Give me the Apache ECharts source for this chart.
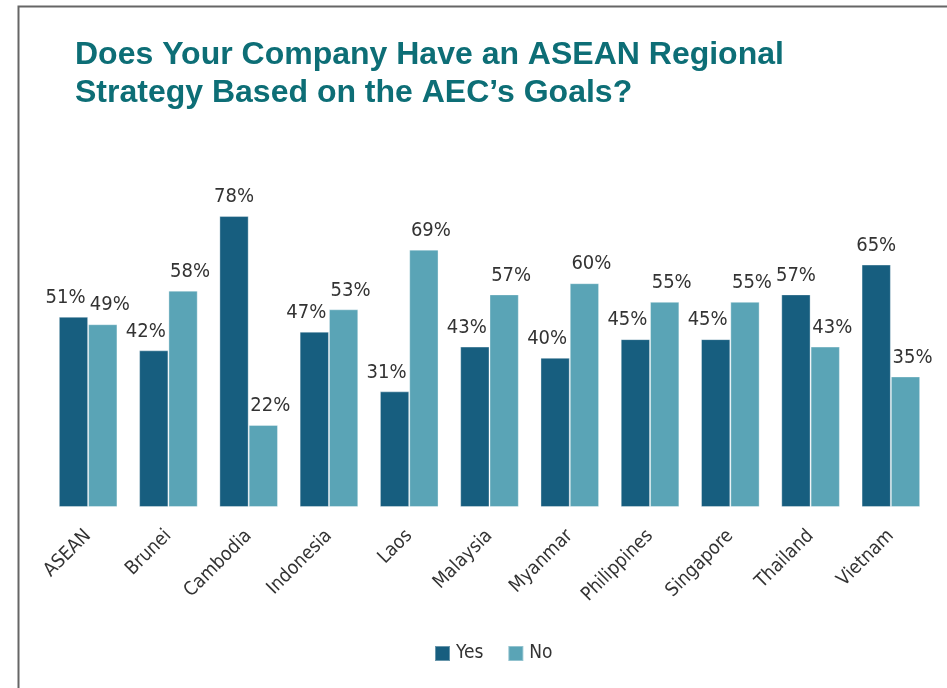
<!DOCTYPE html>
<html>
<head>
<meta charset="utf-8">
<script src="https://cdn.jsdelivr.net/npm/echarts@6/dist/echarts.min.js"></script>
<style>
html, body { margin: 0; padding: 0; background: #fff; }
#chart { width: 947px; height: 688px; position: relative; }
</style>
</head>
<body>
<div id="chart"></div>
<script>
// survey answers per country, percent
const countries = ['ASEAN', 'Brunei', 'Cambodia', 'Indonesia', 'Laos', 'Malaysia', 'Myanmar', 'Philippines', 'Singapore', 'Thailand', 'Vietnam']
const yesValues = [51, 42, 78, 47, 31, 43, 40, 45, 45, 57, 65]
const noValues = [49, 58, 22, 53, 69, 57, 60, 55, 55, 43, 35]

const narrow = '"DejaVu Sans Condensed", "Liberation Sans Narrow", sans-serif'
const chart = echarts.init(document.getElementById('chart'), null, { renderer: 'canvas' })

// yes labels move left when the no bar is about as tall (so labels don't collide)
const yesData = yesValues.map((v, i) => ({
    value: v,
    label: { offset: [v > noValues[i] + 10 ? 0 : -8, 0] }
}))

const option = {
    backgroundColor: '#fff',
    animation: false,
    title: {
        text: 'Does Your Company Have an ASEAN Regional\nStrategy Based on the AEC\u2019s Goals?',
        left: 70,
        top: 31,
        textStyle: {
            fontFamily: '"Liberation Sans", Arial, sans-serif',
            fontWeight: 'bold',
            fontSize: 32,
            lineHeight: 38,
            color: '#0d6e76'
        }
    },
    graphic: [{
        type: 'polyline',
        shape: { points: [[18.5, 688], [18.5, 6.5], [947, 6.5]] },
        style: { stroke: '#666', lineWidth: 2, fill: null },
        silent: true
    }],
    legend: {
        bottom: 20,
        left: 429,
        itemWidth: 15,
        itemHeight: 15,
        itemGap: 24,
        icon: 'rect',
        textStyle: { fontFamily: narrow, fontSize: 19, color: '#333', padding: [0, 0, 0, 1] },
        data: ['Yes', 'No']
    },
    grid: { left: 48, right: 16, top: 134, bottom: 181, containLabel: false },
    xAxis: {
        type: 'category',
        data: countries,
        axisLine: { show: false },
        axisTick: { show: false },
        axisLabel: {
            rotate: 45,
            interval: 0,
            margin: 26,
            fontFamily: narrow,
            fontSize: 19,
            color: '#333'
        }
    },
    yAxis: {
        type: 'value',
        min: 0,
        max: 100,
        show: false,
        splitLine: { show: false }
    },
    series: [
        {
            name: 'Yes',
            type: 'bar',
            data: yesData,
            barGap: '0%',
            barCategoryGap: '27%',
            itemStyle: { color: '#175e7f', borderColor: 'rgba(255,255,255,0.35)', borderWidth: 1 },
            label: {
                show: true,
                position: 'top',
                distance: 9,
                formatter: '{c}%',
                fontFamily: narrow,
                fontSize: 20,
                color: '#333'
            }
        },
        {
            name: 'No',
            type: 'bar',
            data: noValues,
            itemStyle: { color: '#5aa4b6', borderColor: 'rgba(255,255,255,0.35)', borderWidth: 1 },
            label: {
                show: true,
                position: 'top',
                distance: 9,
                offset: [7, 0],
                formatter: '{c}%',
                fontFamily: narrow,
                fontSize: 20,
                color: '#333'
            }
        }
    ]
}
chart.setOption(option)
</script>
</body>
</html>
